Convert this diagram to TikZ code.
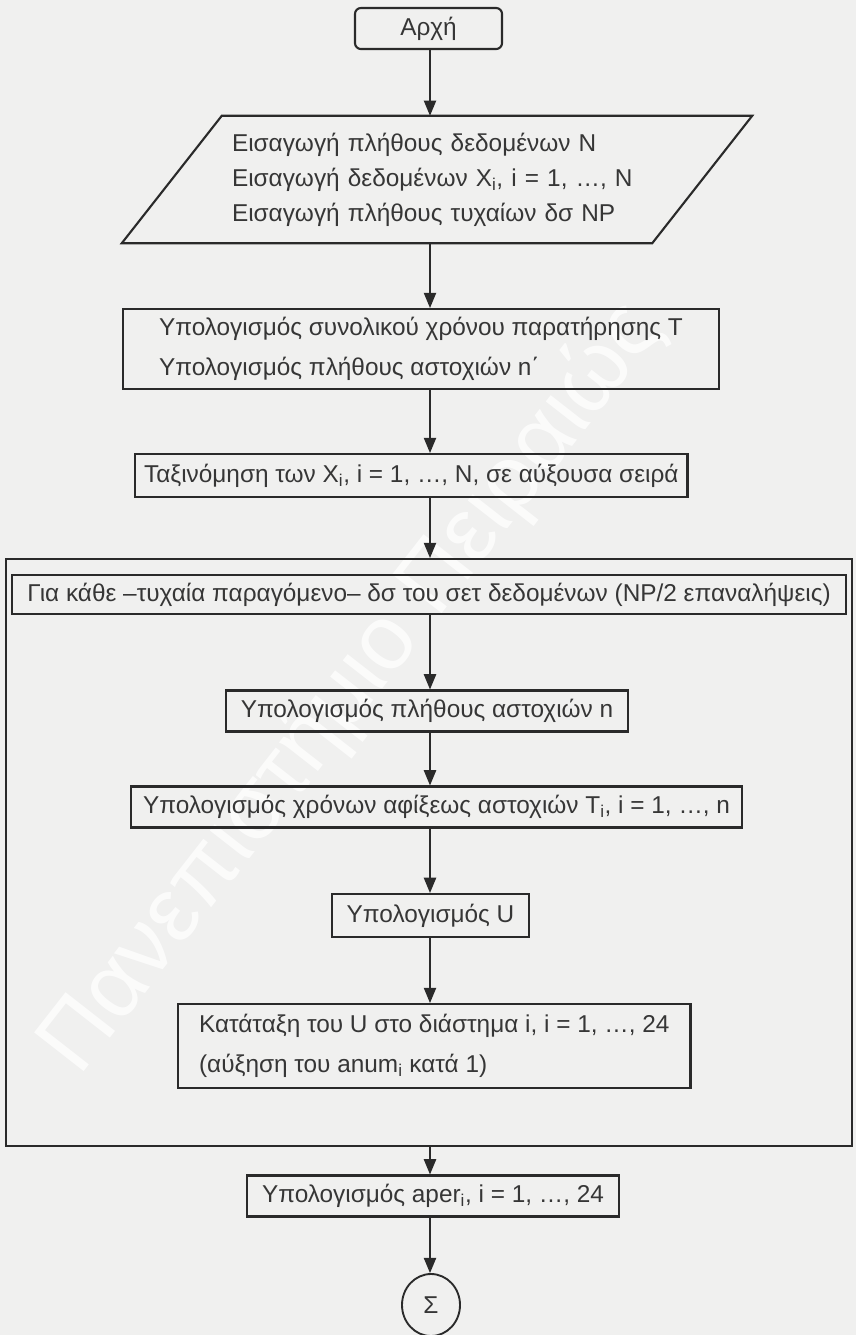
\documentclass[tikz,border=0pt]{standalone}
\usepackage{fontspec}
\setmainfont{Liberation Sans}
\usetikzlibrary{arrows.meta,calc,shapes.geometric}
\definecolor{paper}{HTML}{F0F0EF}
\definecolor{ink}{HTML}{2A2A2A}
\definecolor{txt}{HTML}{363636}
\newdimen\px \px=0.03cm
\begin{document}
\begin{tikzpicture}[x=0.03cm,y=-0.03cm,
  every node/.style={text=txt},
  base/.style={font=\fontsize{20.8}{34}\selectfont},
  procbox/.style={base,draw=ink,line width=1.8pt,inner xsep=15\px,inner ysep=0pt,minimum height=41\px},
  startbox/.style={procbox,rounded corners=5pt,minimum width=147\px},
  framebox/.style={draw=ink,line width=1.3pt,inner sep=0pt},
  endnode/.style={base,draw=ink,line width=1.6pt,ellipse,inner sep=0pt,minimum width=58\px,minimum height=62\px},
  flow/.style={draw=ink,line width=1.2pt,-{Triangle[length=13pt,width=10.5pt]}}]

% paper
\fill[paper] (0,0) rectangle (856,1335);
\useasboundingbox (0,0) rectangle (856,1335);

% watermark
\node[rotate=52,font=\fontsize{78}{78}\selectfont,text=white,opacity=.75] (wm) at (352,688) {Πανεπιστήμιο Πειραιώς};

% central axis of the flow
\coordinate (axis) at (430,0);

\node[startbox] (start) at (428.5,28.5) {Αρχή};

% input parallelogram: text rectangle plus sheared outline
\node[base,font=\fontsize{20.8}{30}\selectfont,align=left,text width=410\px,inner xsep=60\px,inner ysep=0pt,minimum height=127\px] (inp) at (437,179.5)
  {Εισαγωγή πλήθους δεδομένων N\\Εισαγωγή δεδομένων X\textsubscript{i}, i = 1, …, N\\Εισαγωγή πλήθους τυχαίων δσ NP};
\draw[draw=ink,line width=1.8pt] ($(inp.north west)+(50,0)$) -- ($(inp.north east)+(50,0)$)
  -- ($(inp.south east)+(-50,0)$) -- ($(inp.south west)+(-50,0)$) -- cycle;

\node[procbox,anchor=north west,inner xsep=36\px,minimum height=80\px,align=left] (calc) at (122,308)
  {Υπολογισμός συνολικού χρόνου παρατήρησης Τ\\Υπολογισμός πλήθους αστοχιών n΄};

\node[procbox,anchor=north west,inner xsep=9\px,minimum height=43\px] (sort) at (134,453)
  {Ταξινόμηση των X\textsubscript{i}, i = 1, …, N, σε αύξουσα σειρά};

% repetition frame
\node[framebox,anchor=north west,minimum width=846\px,minimum height=587\px] (frame) at (5,558) {};
\node[procbox,anchor=north west,inner xsep=0pt,minimum width=834\px,minimum height=39\px] (loop) at (11,574)
  {Για κάθε –τυχαία παραγόμενο– δσ του σετ δεδομένων (NP/2 επαναλήψεις)};

\node[procbox] (nfail) at (427,711) {Υπολογισμός πλήθους αστοχιών n};
\node[procbox,inner xsep=12\px] (times) at (436.5,807) {Υπολογισμός χρόνων αφίξεως αστοχιών T\textsubscript{i}, i = 1, …, n};
\node[procbox,minimum width=197\px,minimum height=43\px] (ucalc) at (430.5,915.5) {Υπολογισμός U};
\node[procbox,anchor=north west,inner xsep=21\px,minimum height=84\px,align=left] (rank) at (177,1003)
  {Κατάταξη του U στο διάστημα i, i = 1, …, 24\\(αύξηση του anum\textsubscript{i} κατά 1)};

\node[procbox,minimum height=41\px] (aper) at (433,1196) {Υπολογισμός aper\textsubscript{i}, i = 1, …, 24};
\node[endnode] (stop) at (431,1305) {Σ};

% connectors
\draw[flow] (start.south -| axis) -- (inp.north -| axis);
\draw[flow] (inp.south -| axis) -- (calc.north -| axis);
\draw[flow] (calc.south -| axis) -- (sort.north -| axis);
\draw[flow] (sort.south -| axis) -- (frame.north -| axis);
\draw[flow] (loop.south -| axis) -- (nfail.north -| axis);
\draw[flow] (nfail.south -| axis) -- (times.north -| axis);
\draw[flow] (times.south -| axis) -- (ucalc.north -| axis);
\draw[flow] (ucalc.south -| axis) -- (rank.north -| axis);
\draw[flow] (frame.south -| axis) -- (aper.north -| axis);
\draw[flow] (aper.south -| axis) -- (stop.north -| axis);
\end{tikzpicture}
\end{document}
